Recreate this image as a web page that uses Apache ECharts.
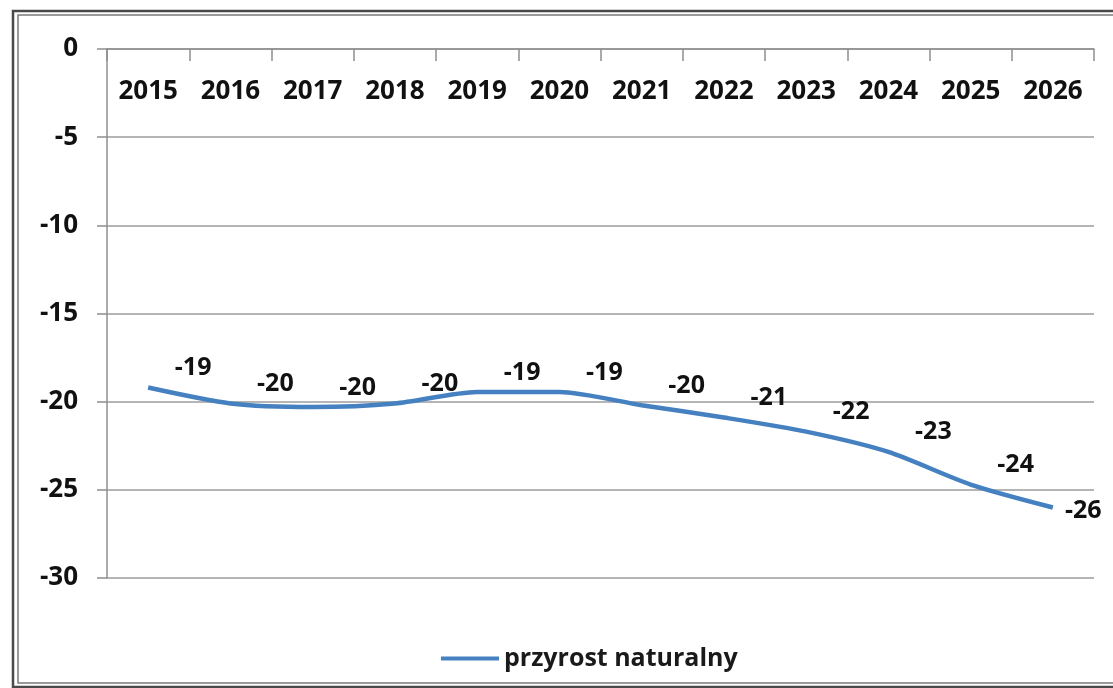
<!DOCTYPE html>
<html>
<head>
<meta charset="utf-8">
<script src="https://cdn.jsdelivr.net/npm/echarts@6/dist/echarts.min.js"></script>
<style>
	html, body { margin: 0; padding: 0; background: #fff; }
	#chart { width: 1113px; height: 688px; }
</style>
</head>
<body>
<div id="chart"></div>
<script>
"use strict";

var YEARS = ['2015', '2016', '2017', '2018', '2019', '2020', '2021', '2022', '2023', '2024', '2025', '2026'];
var VALUES = [-19.2, -20.1, -20.3, -20.1, -19.45, -19.45, -20.2, -20.9, -21.7, -22.85, -24.7, -26.0];
var LABELS = ['-19', '-20', '-20', '-20', '-19', '-19', '-20', '-21', '-22', '-23', '-24', '-26'];
var SERIES_NAME = 'przyrost naturalny';

var FONT = '"Open Sans", "Noto Sans", sans-serif';
var GRAY = '#8f8f8f';
var BLUE = '#4580c0';

var chart = echarts.init(document.getElementById('chart'));

// last point keeps its label to the right, the others sit up and right
var seriesData = [];
for (var i = 0; i < VALUES.length; i++) {
	var item = { value: VALUES[i] };
	if (i === VALUES.length - 1) {
		item.label = { position: 'right', offset: [8, 3] };
	}
	seriesData.push(item);
}

chart.setOption({
	animation: false,
	grid: {
		left: 107,
		right: 19,
		top: 49,
		bottom: 110
	},
	graphic: [{
		type: 'rect',
		shape: { x: 13, y: 11, width: 1130, height: 676 },
		style: { fill: 'none', stroke: '#4a4a4a', lineWidth: 2.5 }
	}, {
		type: 'rect',
		shape: { x: 18, y: 15, width: 1120, height: 668 },
		style: { fill: 'none', stroke: '#7a7a7a', lineWidth: 1.5 }
	}],
	legend: {
		left: 436,
		top: 641,
		itemWidth: 58,
		itemHeight: 4,
		itemGap: 2,
		textStyle: { fontFamily: FONT, fontSize: 25, fontWeight: 'bold', color: '#1a1a1a' },
		data: [{ name: SERIES_NAME, icon: 'rect' }]
	},
	xAxis: {
		type: 'category',
		position: 'top',
		data: YEARS,
		boundaryGap: true,
		axisLine: { lineStyle: { color: GRAY, width: 1.5 } },
		axisTick: { show: true, inside: true, length: 12, lineStyle: { color: GRAY, width: 1.5 } },
		axisLabel: {
			inside: true,
			margin: 30,
			interval: 0,
			fontFamily: FONT,
			fontSize: 26,
			fontWeight: 'bold',
			color: '#111'
		}
	},
	yAxis: {
		type: 'value',
		min: -30,
		max: 0,
		interval: 5,
		axisLine: { show: true, lineStyle: { color: GRAY, width: 1.5 } },
		axisTick: { show: true, length: 10, lineStyle: { color: GRAY, width: 1.5 } },
		splitLine: { lineStyle: { color: '#9c9c9c', width: 1.5 } },
		axisLabel: {
			margin: 29,
			fontFamily: FONT,
			fontSize: 26,
			fontWeight: 'bold',
			color: '#111'
		}
	},
	series: [{
		name: SERIES_NAME,
		type: 'line',
		data: seriesData,
		smooth: 0.25,
		symbol: 'circle',
		symbolSize: 0.1,
		showSymbol: true,
		lineStyle: { color: BLUE, width: 4.5 },
		itemStyle: { color: BLUE },
		label: {
			show: true,
			position: 'top',
			distance: 4,
			offset: [45, -3],
			fontFamily: FONT,
			fontSize: 25,
			fontWeight: 'bold',
			color: '#111',
			formatter: function(p) {
				return LABELS[p.dataIndex];
			}
		}
	}]
});
</script>
</body>
</html>
